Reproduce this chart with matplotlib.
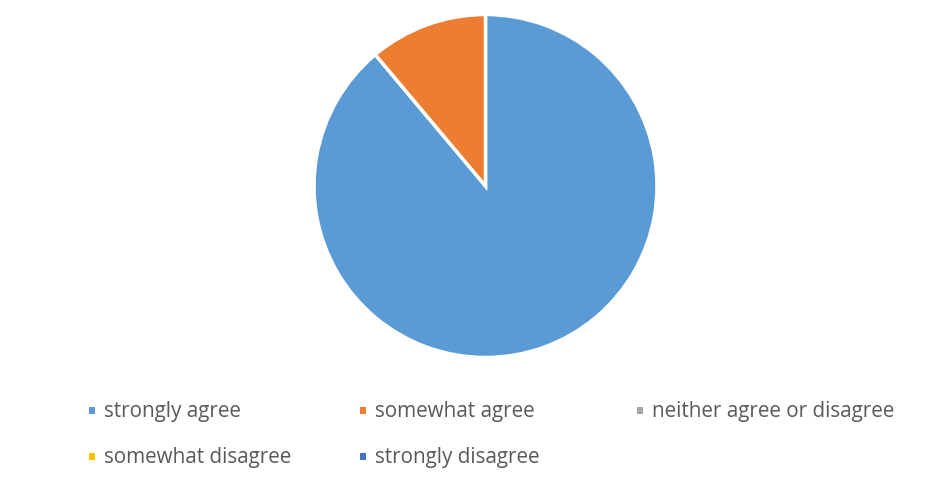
import matplotlib
matplotlib.use("Agg")
import matplotlib.pyplot as plt
from matplotlib.patches import Rectangle

categories = ["strongly agree", "somewhat agree", "neither agree or disagree",
              "somewhat disagree", "strongly disagree"]
values = [8, 1, 0, 0, 0]
colors = ["#5B9BD5", "#ED7D31", "#A5A5A5", "#FFC000", "#4472C4"]

W, H = 952, 486
fig = plt.figure(figsize=(W / 100, H / 100), dpi=100)

cx, cy, r = 485.5, 186, 171.5
ax = fig.add_axes([(cx - r) / W, (H - cy - r) / H, 2 * r / W, 2 * r / H])
nz = [(v, c) for v, c in zip(values, colors) if v > 0]
ax.pie([v for v, _ in nz], colors=[c for _, c in nz], startangle=90,
       counterclock=False, radius=1,
       wedgeprops=dict(edgecolor="white", linewidth=2.5))
ax.set_xlim(-1.0, 1.0)
ax.set_ylim(-1.0, 1.0)
ax.set_aspect("equal")
ax.axis("off")

# legend
pos = [(89, 410), (360, 410), (637, 410), (89, 456), (360, 456)]
for (x, y), lab, col in zip(pos, categories, colors):
    fig.patches.append(Rectangle((x / W, (H - y - 3.5) / H), 6 / W, 7 / H,
                                 transform=fig.transFigure, facecolor=col,
                                 edgecolor="none"))
    fig.text((x + 15) / W, (H - y - 1) / H, lab, fontsize=14.9, color="#595959",
             family="Open Sans", va="center", ha="left")

fig.savefig("out.png", dpi=100)
